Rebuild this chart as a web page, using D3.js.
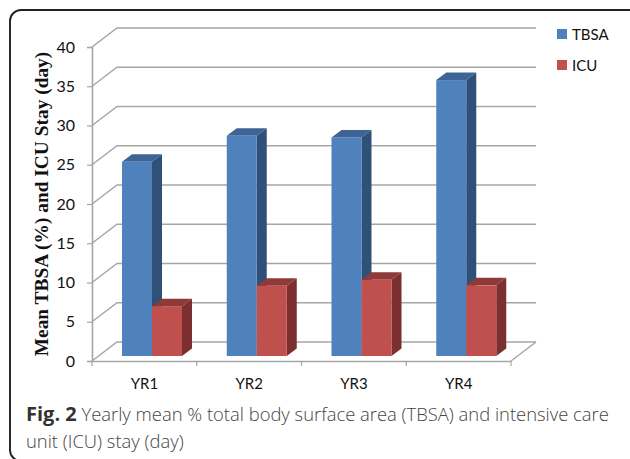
<!DOCTYPE html>
<html>
<head>
<meta charset="utf-8">
<script src="https://cdn.jsdelivr.net/npm/d3@7"></script>
<style>
    html, body { margin: 0; padding: 0; background: #fff; overflow: hidden; }
    text { font-family: Lato, sans-serif; }
</style>
</head>
<body>
<div id="chart"></div>
<script>
var years = ["YR1", "YR2", "YR3", "YR4"];
var tbsa = [24.75, 28.05, 27.85, 35.15];
var icu = [6.35, 8.95, 9.7, 9.0];
var yTicks = [0, 5, 10, 15, 20, 25, 30, 35, 40];
var seriesNames = ["TBSA", "ICU"];

var blue = {front: "#4f81bd", top: "#3d6495", side: "#2f5077"};
var red = {front: "#c0504d", top: "#8e3a38", side: "#7b2f2e"};
var gridColor = "#a6a6a6";

var svg = d3.select("#chart").append("svg")
    .attr("width", 630)
    .attr("height", 459);

// card border, runs off the right and bottom edges
svg.append("rect")
    .attr("x", 10).attr("y", 10)
    .attr("width", 632).attr("height", 451)
    .attr("rx", 11)
    .attr("fill", "none")
    .attr("stroke", "#222")
    .attr("stroke-width", 1.9);

var xScale = d3.scaleBand().domain(years).range([92, 511]);
var yScale = d3.scaleLinear().domain([0, 40]).range([361, 47]);

var wallDx = 25, wallDy = -19;   // floor depth
var barDx = 10, barDy = -7.5;    // bar depth
var barLift = 5;                 // bars stand a little in from the front edge
var barWidth = 30;

// walls
var grid = svg.append("g").attr("fill", "none").attr("stroke", gridColor).attr("stroke-width", 1.5);
yTicks.forEach(function(t) {
    var y = yScale(t);
    grid.append("path")
        .attr("d", d3.line()([[92, y], [92 + wallDx, y + wallDy], [511 + wallDx, y + wallDy]]));
});
grid.append("path")
    .attr("d", d3.line()([[511, yScale(0)], [511 + wallDx, yScale(0) + wallDy]]));

// axes
var yAxis = svg.append("g")
    .attr("transform", "translate(92,0)")
    .call(d3.axisLeft(yScale).tickValues(yTicks).tickSize(5).tickPadding(12));
var xAxis = svg.append("g")
    .attr("transform", "translate(0," + yScale(0) + ")")
    .call(d3.axisBottom(xScale).tickSize(0).tickPadding(17));

xAxis.selectAll(".tick").append("line")
    .attr("x1", xScale.bandwidth() / 2).attr("x2", xScale.bandwidth() / 2)
    .attr("y1", 0).attr("y2", 5);
svg.append("line")
    .attr("x1", 92).attr("x2", 92)
    .attr("y1", yScale(0)).attr("y2", yScale(0) + 5)
    .attr("stroke", gridColor).attr("stroke-width", 1.2);

[yAxis, xAxis].forEach(function(a) {
    a.selectAll(".domain").attr("stroke", gridColor).attr("stroke-width", 1.6);
    a.selectAll(".tick line").attr("stroke", gridColor).attr("stroke-width", 1.2);
    a.selectAll("text").attr("fill", "#111").style("font-family", "Lato, sans-serif");
});
yAxis.selectAll("text").style("font-size", "16px");
xAxis.selectAll("text").style("font-size", "15px");

// bars
function drawBar(x, value, colors) {
    var bottom = yScale(0) - barLift;
    var top = yScale(value) - barLift;
    var g = svg.append("g");
    g.append("path")
        .attr("fill", colors.side)
        .attr("d", d3.line()([[x + barWidth, top], [x + barWidth + barDx, top + barDy], [x + barWidth + barDx, bottom + barDy], [x + barWidth, bottom]]) + "Z");
    g.append("path")
        .attr("fill", colors.top)
        .attr("d", d3.line()([[x, top], [x + barDx, top + barDy], [x + barWidth + barDx, top + barDy], [x + barWidth, top]]) + "Z");
    g.append("rect")
        .attr("x", x).attr("y", top)
        .attr("width", barWidth).attr("height", bottom - top)
        .attr("fill", colors.front);
}

years.forEach(function(yr, i) {
    var x = xScale(yr) + 30;
    drawBar(x, tbsa[i], blue);
    drawBar(x + barWidth, icu[i], red);
});

// legend
var legendY = [29, 60];
seriesNames.forEach(function(name, i) {
    svg.append("rect")
        .attr("x", 557).attr("y", legendY[i])
        .attr("width", 10).attr("height", 10)
        .attr("fill", i === 0 ? blue.front : red.front);
    svg.append("text")
        .attr("x", 572).attr("y", legendY[i] + 10.5)
        .attr("fill", "#111")
        .style("font-size", "15px")
        .text(name);
});

// y title
svg.append("text")
    .attr("transform", "translate(48,204) rotate(-90)")
    .attr("text-anchor", "middle")
    .style("font-family", '"Liberation Serif", serif')
    .style("font-weight", "bold")
    .style("font-size", "19.4px")
    .attr("fill", "#111")
    .text("Mean TBSA (%) and ICU Stay (day)");

// caption
var line1 = svg.append("text")
    .attr("x", 26).attr("y", 421)
    .attr("fill", "#444")
    .style("font-family", '"Open Sans", sans-serif')
    .style("font-weight", "300")
    .style("font-size", "18.4px");
line1.append("tspan")
    .style("font-weight", "bold")
    .style("font-size", "20px")
    .attr("fill", "#333")
    .text("Fig. 2");
line1.append("tspan").text(" Yearly mean % total body surface area (TBSA) and intensive care");
svg.append("text")
    .attr("x", 26).attr("y", 448)
    .attr("fill", "#444")
    .style("font-family", '"Open Sans", sans-serif')
    .style("font-weight", "300")
    .style("font-size", "18.4px")
    .text("unit (ICU) stay (day)");
</script>
</body>
</html>
